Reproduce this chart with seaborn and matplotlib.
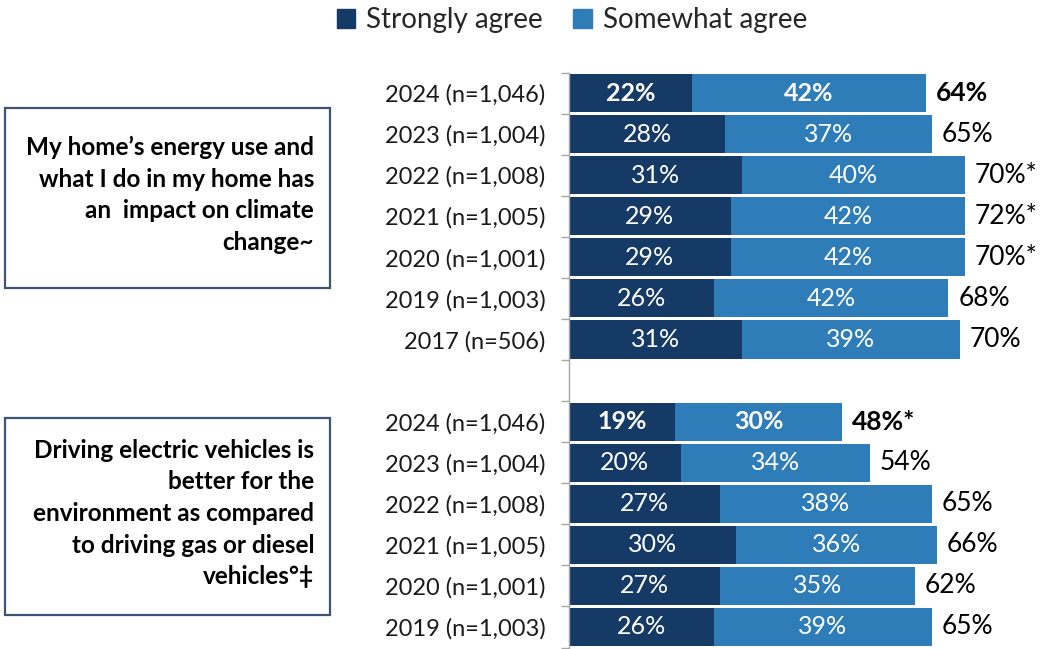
import numpy as np
import pandas as pd
import matplotlib
matplotlib.use("Agg")
import matplotlib.pyplot as plt
import matplotlib.patches as mpatches
import seaborn as sns

# ---- data -------------------------------------------------------------
row_labels = [
    "2024 (n=1,046)", "2023 (n=1,004)", "2022 (n=1,008)", "2021 (n=1,005)",
    "2020 (n=1,001)", "2019 (n=1,003)", "2017 (n=506)",
    "",
    "2024 (n=1,046)", "2023 (n=1,004)", "2022 (n=1,008)", "2021 (n=1,005)",
    "2020 (n=1,001)", "2019 (n=1,003)",
]
strongly_agree = [22, 28, 31, 29, 29, 26, 31, np.nan, 19, 20, 27, 30, 27, 26]
somewhat_agree = [42, 37, 40, 42, 42, 42, 39, np.nan, 30, 34, 38, 36, 35, 39]
total_labels = ["64%", "65%", "70%*", "72%*", "70%*", "68%", "70%", "",
                "48%*", "54%", "65%", "66%", "62%", "65%"]
highlight = [True, False, False, False, False, False, False, False,
             True, False, False, False, False, False]

statements = [
    "My home\u2019s energy use and\nwhat I do in my home has\nan  impact on climate\nchange~",
    "Driving electric vehicles is\nbetter for the\nenvironment as compared\nto driving gas or diesel\nvehicles\u00b0\u2021",
]
series_names = ["Strongly agree", "Somewhat agree"]

# ---- styling ----------------------------------------------------------
DARK = "#163a66"
LIGHT = "#2e7db8"
sns.set_theme(style="white")
plt.rcParams["font.family"] = ["Lato", "DejaVu Sans"]

keys = [f"r{i}" for i in range(len(row_labels))]
df = pd.DataFrame({
    "key": keys,
    "strong": strongly_agree,
    "some": somewhat_agree,
})
df["total"] = df["strong"] + df["some"]

fig = plt.figure(figsize=(10.51, 6.49), dpi=100)
ax = fig.add_axes([569 / 1051, 1 - 647.5 / 649, 1 - 569 / 1051, (647.5 - 72.5) / 649])

sns.barplot(data=df, y="key", x="total", order=keys, orient="h", color=LIGHT,
            saturation=1, width=0.93, ax=ax, linewidth=0)
sns.barplot(data=df, y="key", x="strong", order=keys, orient="h", color=DARK,
            saturation=1, width=0.93, ax=ax, linewidth=0)

ax.set_xlim(0, (1051 - 569) / 5.58)
ax.set_ylim(len(keys) - 0.5, -0.5)
ax.set_xlabel("")
ax.set_ylabel("")
ax.set_xticks([])
ax.set_yticks(range(len(keys)))
ax.set_yticklabels(row_labels, fontsize=17, color="#1a1a1a")
ax.tick_params(axis="y", which="major", length=0, pad=17)
ax.set_yticks(np.arange(-0.5, len(keys), 1.0), minor=True)
ax.tick_params(axis="y", which="minor", length=6, width=1, color="#a6a6a6", left=True)
for side in ["top", "right", "bottom"]:
    ax.spines[side].set_visible(False)
ax.spines["left"].set_color("#a6a6a6")
ax.spines["left"].set_linewidth(1)

# value labels
for i, (s, w, lab, hl) in enumerate(zip(strongly_agree, somewhat_agree, total_labels, highlight)):
    if np.isnan(s):
        continue
    weight = "bold" if hl else "normal"
    ax.text(s / 2, i, f"{int(s)}%", ha="center", va="center", color="white",
            fontsize=18, fontweight=weight)
    ax.text(s + w / 2, i, f"{int(w)}%", ha="center", va="center", color="white",
            fontsize=18, fontweight=weight)
    ax.annotate(lab, xy=(s + w, i), xytext=(7, 0), textcoords="offset points",
                ha="left", va="center", color="black", fontsize=19, fontweight=weight)

# legend
handles = [mpatches.Patch(color=DARK, label=series_names[0]),
           mpatches.Patch(color=LIGHT, label=series_names[1])]
fig.legend(handles=handles, loc="center", bbox_to_anchor=(572 / 1051, 1 - 20 / 649),
           ncol=2, frameon=False, fontsize=20, handlelength=0.65, handleheight=0.65,
           handletextpad=0.4, columnspacing=1.1, borderaxespad=0)

# statement boxes
boxes = [(5, 108, 330, 288), (5, 418, 330, 615)]
for (x0, y0, x1, y1), txt in zip(boxes, statements):
    rect = mpatches.Rectangle((x0 / 1051, 1 - y1 / 649), (x1 - x0) / 1051, (y1 - y0) / 649,
                              transform=fig.transFigure, fill=False,
                              edgecolor="#3e5472", linewidth=1.6)
    fig.add_artist(rect)
    fig.text(314 / 1051, 1 - ((y0 + y1) / 2 - 3) / 649, txt, ha="right", va="center",
             fontsize=17.5, fontweight="bold", linespacing=1.45, color="black")

fig.savefig("out.png", dpi=100)
